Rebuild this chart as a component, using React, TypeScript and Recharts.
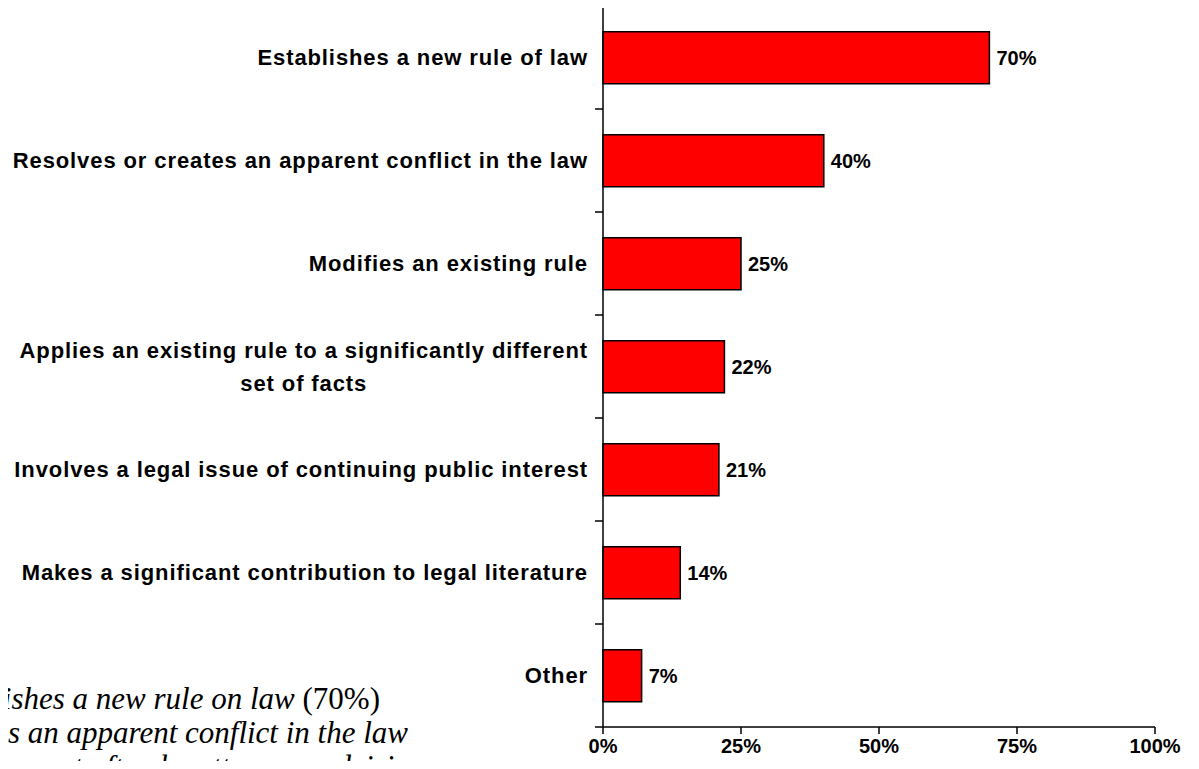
import React from "react"
import { Bar, BarChart, LabelList, XAxis, YAxis } from "recharts"

const CATEGORIES = [
  "Establishes a new rule of law",
  "Resolves or creates an apparent conflict in the law",
  "Modifies an existing rule",
  "Applies an existing rule to a significantly different set of facts",
  "Involves a legal issue of continuing public interest",
  "Makes a significant contribution to legal literature",
  "Other",
]
const SHARES = [70, 40, 25, 22, 21, 14, 7]
const X_TICKS = [0, 25, 50, 75, 100]

const data = CATEGORIES.map((name, i) => ({ name, share: SHARES[i] }))

const W = 1199
const H = 769
const TOP = 6
const X_AXIS_H = 42
const Y_AXIS_W = 603
const RIGHT = 44
const BAND = (H - TOP - X_AXIS_H) / CATEGORIES.length
const SANS = "'Liberation Sans', Arial, sans-serif"
const SERIF = "'Liberation Serif', 'Times New Roman', serif"
const LABEL_SIZE = 22
const LABEL_SPACING = 0.9
const LINE_GAP = 33
const WRAP_AT = 56

let ctx: CanvasRenderingContext2D | null = null
function textWidth(s: string) {
  if (!ctx) ctx = document.createElement("canvas").getContext("2d")
  if (!ctx) return s.length * 12
  ctx.font = `bold ${LABEL_SIZE}px 'Liberation Sans'`
  return ctx.measureText(s).width + LABEL_SPACING * s.length
}

// simple word wrap on character count
function wrap(s: string) {
  const lines: string[] = []
  let cur = ""
  for (const w of s.split(" ")) {
    const next = cur ? cur + " " + w : w
    if (cur && next.length > WRAP_AT) {
      lines.push(cur)
      cur = w
    } else cur = next
  }
  if (cur) lines.push(cur)
  return lines
}

function CategoryTick(props: any) {
  const { x, y, payload, index } = props
  const lines = wrap(String(payload.value))
  const axisX = x + 15
  const maxW = Math.max(...lines.map(textWidth))
  const multi = lines.length > 1
  return (
    <g>
      <line x1={axisX - 8} x2={axisX} y1={y - BAND / 2} y2={y - BAND / 2} stroke="#000" strokeWidth={1.5} />
      {index === CATEGORIES.length - 1 && (
        <line x1={axisX - 8} x2={axisX} y1={y + BAND / 2} y2={y + BAND / 2} stroke="#000" strokeWidth={1.5} />
      )}
      <text
        fontFamily={SANS}
        fontWeight="bold"
        fontSize={LABEL_SIZE}
        fill="#000"
        style={{ letterSpacing: LABEL_SPACING }}
      >
        {lines.map((l, i) => (
          <tspan
            key={i}
            x={multi ? x - maxW / 2 : x}
            y={y + (i - (lines.length - 1) / 2) * LINE_GAP}
            dy="0.36em"
            textAnchor={multi ? "middle" : "end"}
          >
            {l}
          </tspan>
        ))}
      </text>
    </g>
  )
}

export default function App() {
  return (
    <div style={{ position: "relative", width: W, height: H, margin: -8, overflow: "hidden", background: "#fff" }}>
      <svg width={W} height={H} style={{ position: "absolute", left: 0, top: 0 }}>
        <text x={380} y={709} textAnchor="end" fontFamily={SERIF} fontSize={31} fill="#000">
          <tspan fontStyle="italic">ishes a new rule on law</tspan> (70%)
        </text>
        <text x={408} y={743} textAnchor="end" fontFamily={SERIF} fontSize={31} fontStyle="italic" fill="#000">
          s an apparent conflict in the law
        </text>
        <text x={425} y={777} textAnchor="end" fontFamily={SERIF} fontSize={31} fontStyle="italic" fill="#000">
          nt often by attorneys advising
        </text>
      </svg>
      <div style={{ position: "absolute", left: 0, top: 0 }}>
        <BarChart
          width={W}
          height={H}
          data={data}
          layout="vertical"
          barCategoryGap="25%"
          margin={{ top: TOP, right: RIGHT, bottom: 0, left: 0 }}
        >
          <XAxis
            type="number"
            domain={[0, 100]}
            ticks={X_TICKS}
            interval={0}
            height={X_AXIS_H}
            tickSize={7}
            tickMargin={5}
            tickFormatter={(v: number) => `${v}%`}
            axisLine={{ stroke: "#000", strokeWidth: 1.5 }}
            tickLine={{ stroke: "#000", strokeWidth: 1.5 }}
            tick={{ fontFamily: SANS, fontWeight: "bold", fontSize: 20, fill: "#000" }}
          />
          <YAxis
            type="category"
            dataKey="name"
            width={Y_AXIS_W}
            interval={0}
            tickSize={8}
            tickMargin={7}
            tickLine={false}
            axisLine={{ stroke: "#000", strokeWidth: 1.5 }}
            tick={(p: any) => <CategoryTick {...p} />}
          />
          <Bar dataKey="share" fill="#ff0000" stroke="#000" strokeWidth={1.5} isAnimationActive={false}>
            <LabelList
              dataKey="share"
              position="right"
              offset={7}
              formatter={(v: number) => `${v}%`}
              style={{ fontFamily: SANS, fontWeight: "bold", fontSize: 20, fill: "#000" }}
            />
          </Bar>
        </BarChart>
      </div>
    </div>
  )
}
